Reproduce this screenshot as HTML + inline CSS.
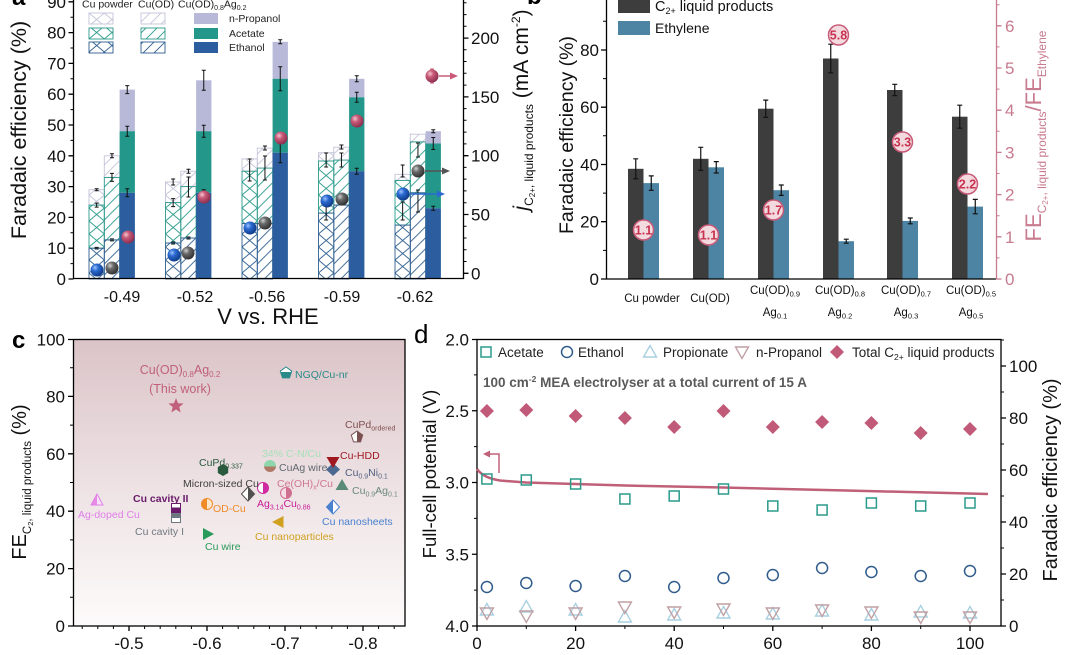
<!DOCTYPE html>
<html><head><meta charset="utf-8"><style>
html,body{margin:0;padding:0;background:#fff;}
svg{display:block;font-family:"Liberation Sans",Arial,sans-serif;}
</style></head><body>
<svg width="1066" height="655" viewBox="0 0 1066 655" xmlns="http://www.w3.org/2000/svg" xmlns:xlink="http://www.w3.org/1999/xlink">
<defs>
<pattern id="xE" patternUnits="userSpaceOnUse" width="15.3" height="13"><path d="M0,0L15.3,13M15.3,0L0,13" stroke="#2f5f8f" stroke-width="0.9" fill="none"/></pattern>
<pattern id="xA" patternUnits="userSpaceOnUse" width="15.3" height="13"><path d="M0,0L15.3,13M15.3,0L0,13" stroke="#2a9a8a" stroke-width="0.9" fill="none"/></pattern>
<pattern id="xP" patternUnits="userSpaceOnUse" width="15.3" height="13"><path d="M0,0L15.3,13M15.3,0L0,13" stroke="#c4c4da" stroke-width="0.9" fill="none"/></pattern>
<pattern id="dE" patternUnits="userSpaceOnUse" width="11" height="11"><path d="M0,11L11,0M-5.5,5.5L5.5,-5.5M5.5,16.5L16.5,5.5" stroke="#2f5f8f" stroke-width="0.9" fill="none"/></pattern>
<pattern id="dA" patternUnits="userSpaceOnUse" width="11" height="11"><path d="M0,11L11,0M-5.5,5.5L5.5,-5.5M5.5,16.5L16.5,5.5" stroke="#2a9a8a" stroke-width="0.9" fill="none"/></pattern>
<pattern id="dP" patternUnits="userSpaceOnUse" width="11" height="11"><path d="M0,11L11,0M-5.5,5.5L5.5,-5.5M5.5,16.5L16.5,5.5" stroke="#c4c4da" stroke-width="0.9" fill="none"/></pattern>
<radialGradient id="gB" cx="0.35" cy="0.32" r="0.75"><stop offset="0" stop-color="#9cc2ff"/><stop offset="0.35" stop-color="#2a6ad0"/><stop offset="1" stop-color="#0c3580"/></radialGradient>
<radialGradient id="gG" cx="0.35" cy="0.32" r="0.75"><stop offset="0" stop-color="#d0d0d0"/><stop offset="0.35" stop-color="#6a6a6a"/><stop offset="1" stop-color="#2a2a2a"/></radialGradient>
<radialGradient id="gP" cx="0.35" cy="0.32" r="0.75"><stop offset="0" stop-color="#f6c6d2"/><stop offset="0.35" stop-color="#c85a78"/><stop offset="1" stop-color="#86284a"/></radialGradient>
<linearGradient id="bgC" x1="0" y1="0" x2="0" y2="1"><stop offset="0" stop-color="#dbc4c8"/><stop offset="0.5" stop-color="#ede1e3"/><stop offset="1" stop-color="#fdfbfb"/></linearGradient>
<linearGradient id="hAgd" x1="0" x2="1" y1="0" y2="0"><stop offset="0.5" stop-color="#e68ae6"/><stop offset="0.5" stop-color="#f8e0f8"/></linearGradient>
<linearGradient id="hCav2" x1="0" x2="0" y1="0" y2="1"><stop offset="0.45" stop-color="#ffffff"/><stop offset="0.45" stop-color="#6a1a6a"/></linearGradient>
<linearGradient id="hCav1" x1="0" x2="0" y1="0" y2="1"><stop offset="0.5" stop-color="#6e7680"/><stop offset="0.5" stop-color="#ffffff"/></linearGradient>
<linearGradient id="hOD" x1="0" x2="1" y1="0" y2="0"><stop offset="0.5" stop-color="#f08c28"/><stop offset="0.5" stop-color="#fde6cc"/></linearGradient>
<linearGradient id="hMic" x1="0" x2="1" y1="0" y2="0"><stop offset="0.5" stop-color="#ffffff"/><stop offset="0.5" stop-color="#505050"/></linearGradient>
<linearGradient id="hAgCu" x1="0" x2="1" y1="0" y2="0"><stop offset="0.5" stop-color="#ffffff"/><stop offset="0.5" stop-color="#d02aa0"/></linearGradient>
<linearGradient id="hCuAg" x1="0" x2="0" y1="0" y2="1"><stop offset="0.55" stop-color="#8ed6ac"/><stop offset="0.55" stop-color="#b07866"/></linearGradient>
<linearGradient id="hCe" x1="0" x2="1" y1="0" y2="0"><stop offset="0.5" stop-color="#f6dce4"/><stop offset="0.5" stop-color="#d07090"/></linearGradient>
<linearGradient id="hNGQ" x1="0" x2="0" y1="0" y2="1"><stop offset="0.45" stop-color="#ffffff"/><stop offset="0.45" stop-color="#2a8a8a"/></linearGradient>
<linearGradient id="hPdo" x1="0" x2="1" y1="0" y2="0"><stop offset="0.5" stop-color="#ffffff"/><stop offset="0.5" stop-color="#7a5050"/></linearGradient>
<linearGradient id="hNs" x1="0" x2="1" y1="0" y2="0"><stop offset="0.5" stop-color="#4a80d0"/><stop offset="0.5" stop-color="#ffffff"/></linearGradient>
<path id="mSq" d="M-5,-5h10v10h-10z"/>
<circle id="mCi" r="5.5"/>
<path id="mTu" d="M0,-6.5L6.5,5L-6.5,5Z"/>
<path id="mTd" d="M-6.5,-5L6.5,-5L0,6.5Z"/>
<path id="mDi" d="M0,-7L7,0L0,7L-7,0Z"/>
</defs>

<!-- ================= PANEL A ================= -->
<text x="12" y="5" font-size="24" font-weight="bold">a</text>
<!-- legend -->
<text x="82" y="7.5" font-size="10.5" fill="#222">Cu powder</text>
<text x="138" y="7.5" font-size="10.5" fill="#222">Cu(OD)</text>
<text x="178" y="7.5" font-size="10.5" fill="#222">Cu(OD)<tspan font-size="7" dy="2.5">0.8</tspan><tspan dy="-2.5">Ag</tspan><tspan font-size="7" dy="2.5">0.2</tspan></text>
<g stroke-width="0.9">
<g transform="translate(89,0)"><rect y="13" width="24" height="11" fill="url(#xP)" stroke="#c4c4da"/><rect y="28" width="24" height="11" fill="url(#xA)" stroke="#2a9a8a"/><rect y="42" width="24" height="11" fill="url(#xE)" stroke="#2f5f8f"/></g>
<g transform="translate(141,0)"><rect y="13" width="24" height="11" fill="url(#dP)" stroke="#c4c4da"/><rect y="28" width="24" height="11" fill="url(#dA)" stroke="#2a9a8a"/><rect y="42" width="24" height="11" fill="url(#dE)" stroke="#2f5f8f"/></g>
</g>
<rect x="194" y="13" width="24" height="11" fill="#b8b9d9"/>
<rect x="194" y="28" width="24" height="11" fill="#22978a"/>
<rect x="194" y="42" width="24" height="11" fill="#2c5e9f"/>
<text x="229" y="22" font-size="10.5" fill="#222">n-Propanol</text>
<text x="229" y="37" font-size="10.5" fill="#222">Acetate</text>
<text x="229" y="51" font-size="10.5" fill="#222">Ethanol</text>

<!-- hatched bars Cu powder -->
<g stroke-width="0.9">
<g transform="translate(89,0)"><rect y="189.7" width="15.3" height="15.4" fill="url(#xP)" stroke="#c4c4da"/><rect y="205.1" width="15.3" height="43.1" fill="url(#xA)" stroke="#2a9a8a"/><rect y="248.2" width="15.3" height="30.8" fill="url(#xE)" stroke="#2f5f8f"/></g>
<g transform="translate(165.5,0)"><rect y="182" width="15.3" height="20.6" fill="url(#xP)" stroke="#c4c4da"/><rect y="202.6" width="15.3" height="40.4" fill="url(#xA)" stroke="#2a9a8a"/><rect y="243" width="15.3" height="36" fill="url(#xE)" stroke="#2f5f8f"/></g>
<g transform="translate(242,0)"><rect y="158.9" width="15.3" height="12.3" fill="url(#xP)" stroke="#c4c4da"/><rect y="171.2" width="15.3" height="52.4" fill="url(#xA)" stroke="#2a9a8a"/><rect y="223.6" width="15.3" height="55.4" fill="url(#xE)" stroke="#2f5f8f"/></g>
<g transform="translate(318.5,0)"><rect y="152.7" width="15.3" height="8.3" fill="url(#xP)" stroke="#c4c4da"/><rect y="161" width="15.3" height="52.1" fill="url(#xA)" stroke="#2a9a8a"/><rect y="213.1" width="15.3" height="65.9" fill="url(#xE)" stroke="#2f5f8f"/></g>
<g transform="translate(395,0)"><rect y="174.3" width="15.3" height="6.1" fill="url(#xP)" stroke="#c4c4da"/><rect y="180.4" width="15.3" height="44.7" fill="url(#xA)" stroke="#2a9a8a"/><rect y="225.1" width="15.3" height="53.9" fill="url(#xE)" stroke="#2f5f8f"/></g>
<!-- Cu(OD) -->
<g transform="translate(104.3,0)"><rect y="155.8" width="15.3" height="21.6" fill="url(#dP)" stroke="#c4c4da"/><rect y="177.4" width="15.3" height="62.5" fill="url(#dA)" stroke="#2a9a8a"/><rect y="239.9" width="15.3" height="39.1" fill="url(#dE)" stroke="#2f5f8f"/></g>
<g transform="translate(180.8,0)"><rect y="171.2" width="15.3" height="15.4" fill="url(#dP)" stroke="#c4c4da"/><rect y="186.6" width="15.3" height="51.4" fill="url(#dA)" stroke="#2a9a8a"/><rect y="238" width="15.3" height="41" fill="url(#dE)" stroke="#2f5f8f"/></g>
<g transform="translate(257.3,0)"><rect y="148.1" width="15.3" height="20" fill="url(#dP)" stroke="#c4c4da"/><rect y="168.1" width="15.3" height="55.5" fill="url(#dA)" stroke="#2a9a8a"/><rect y="223.6" width="15.3" height="55.4" fill="url(#dE)" stroke="#2f5f8f"/></g>
<g transform="translate(333.8,0)"><rect y="147.2" width="15.3" height="12.9" fill="url(#dP)" stroke="#c4c4da"/><rect y="160.1" width="15.3" height="45" fill="url(#dA)" stroke="#2a9a8a"/><rect y="205.1" width="15.3" height="73.9" fill="url(#dE)" stroke="#2f5f8f"/></g>
<g transform="translate(410.3,0)"><rect y="134.2" width="15.3" height="7.7" fill="url(#dP)" stroke="#c4c4da"/><rect y="141.9" width="15.3" height="50.9" fill="url(#dA)" stroke="#2a9a8a"/><rect y="192.8" width="15.3" height="86.2" fill="url(#dE)" stroke="#2f5f8f"/></g>
</g>
<!-- solid CuAg bars -->
<g>
<rect x="119.6" y="89.6" width="15.3" height="41.6" fill="#b8b9d9"/><rect x="119.6" y="131.2" width="15.3" height="61.6" fill="#22978a"/><rect x="119.6" y="192.8" width="15.3" height="86.2" fill="#2c5e9f"/>
<rect x="196.1" y="80.3" width="15.3" height="50.9" fill="#b8b9d9"/><rect x="196.1" y="131.2" width="15.3" height="61.6" fill="#22978a"/><rect x="196.1" y="192.8" width="15.3" height="86.2" fill="#2c5e9f"/>
<rect x="272.6" y="41.8" width="15.3" height="37" fill="#b8b9d9"/><rect x="272.6" y="78.8" width="15.3" height="73.9" fill="#22978a"/><rect x="272.6" y="152.7" width="15.3" height="126.3" fill="#2c5e9f"/>
<rect x="349.1" y="78.8" width="15.3" height="18.5" fill="#b8b9d9"/><rect x="349.1" y="97.3" width="15.3" height="73.9" fill="#22978a"/><rect x="349.1" y="171.2" width="15.3" height="107.8" fill="#2c5e9f"/>
<rect x="425.6" y="131.2" width="15.3" height="12.3" fill="#b8b9d9"/><rect x="425.6" y="143.5" width="15.3" height="64.7" fill="#22978a"/><rect x="425.6" y="208.2" width="15.3" height="70.8" fill="#2c5e9f"/>
</g>
<!-- error bars a -->
<path fill="none" stroke="#111" stroke-width="1" d="M125.25,85.6h4M127.25,85.6v8M125.25,93.6h4M125.25,126.2h4M127.25,126.2v10M125.25,136.2h4M125.25,188.8h4M127.25,188.8v8M125.25,196.8h4M201.75,70.3h4M203.75,70.3v20M201.75,90.3h4M201.75,125.2h4M203.75,125.2v12M201.75,137.2h4M201.75,189.8h4M203.75,189.8v6M201.75,195.8h4M278.25,39.8h4M280.25,39.8v4M278.25,43.8h4M278.25,66.8h4M280.25,66.8v24M278.25,90.8h4M278.25,142.7h4M280.25,142.7v20M278.25,162.7h4M354.75,75.8h4M356.75,75.8v6M354.75,81.8h4M354.75,92.3h4M356.75,92.3v10M354.75,102.3h4M354.75,168.2h4M356.75,168.2v6M354.75,174.2h4M431.25,129.7h4M433.25,129.7v3M431.25,132.7h4M431.25,137.5h4M433.25,137.5v12M431.25,149.5h4M431.25,206.2h4M433.25,206.2v4M431.25,210.2h4M94.65,188.7h4M96.65,188.7v2M94.65,190.7h4M94.65,203.1h4M96.65,203.1v4M94.65,207.1h4M94.65,247.4h4M94.65,249h4M171.15,179h4M173.15,179v6M171.15,185h4M171.15,198.6h4M173.15,198.6v8M171.15,206.6h4M171.15,242h4M171.15,244h4M247.65,159h4M249.65,159v22M247.65,181h4M324.15,153h4M326.15,153v14M324.15,167h4M324.15,200h4M326.15,200v20M324.15,220h4M400.65,165h4M402.65,165v12M400.65,177h4M400.65,202h4M402.65,202v18M400.65,220h4M109.95,153.8h4M111.95,153.8v4M109.95,157.8h4M109.95,173.4h4M111.95,173.4v8M109.95,181.4h4M109.95,238.9h4M109.95,240.9h4M186.45,169.2h4M188.45,169.2v4M186.45,173.2h4M186.45,177h4M188.45,177v20M186.45,197h4M186.45,237h4M186.45,239h4M262.95,146h4M264.95,146v4M262.95,150h4M262.95,156h4M264.95,156v24M262.95,180h4M339.45,145h4M341.45,145v4M339.45,149h4M339.45,153h4M341.45,153v14M339.45,167h4M415.95,143h4M417.95,143v14M415.95,157h4M415.95,190h4M417.95,190v22M415.95,212h4"/>
<!-- arrows -->
<path d="M410,194H440" stroke="#2a6ad0" stroke-width="1.5"/><path d="M445,194L437,190.5L437,197.5Z" fill="#2a6ad0"/>
<path d="M425,171H445" stroke="#555" stroke-width="1.5"/><path d="M450,171L442,167.5L442,174.5Z" fill="#555"/>
<path d="M439,76H453" stroke="#c85a78" stroke-width="1.5"/><path d="M458,76L450,72.5L450,79.5Z" fill="#c85a78"/>
<path d="M432,69v14M430,69h4M430,83h4" stroke="#c85a78" stroke-width="1" fill="none"/>
<!-- spheres -->
<g>
<circle cx="97" cy="270" r="6.5" fill="url(#gB)"/><circle cx="174" cy="255" r="6.5" fill="url(#gB)"/><circle cx="250" cy="228" r="6.5" fill="url(#gB)"/><circle cx="327" cy="201" r="6.5" fill="url(#gB)"/><circle cx="403" cy="194" r="6.5" fill="url(#gB)"/>
<circle cx="112" cy="268" r="6.5" fill="url(#gG)"/><circle cx="188" cy="253" r="6.5" fill="url(#gG)"/><circle cx="265" cy="223" r="6.5" fill="url(#gG)"/><circle cx="342" cy="199" r="6.5" fill="url(#gG)"/><circle cx="418" cy="171" r="6.5" fill="url(#gG)"/>
<circle cx="128" cy="237" r="6.5" fill="url(#gP)"/><circle cx="204" cy="197" r="6.5" fill="url(#gP)"/><circle cx="281" cy="138" r="6.5" fill="url(#gP)"/><circle cx="357" cy="121" r="6.5" fill="url(#gP)"/><circle cx="432" cy="76" r="6.5" fill="url(#gP)"/>
</g>
<!-- axes a -->
<g stroke="#000" stroke-width="1.3" fill="none">
<path d="M73.5,0V278.5H463.5V0"/>
<path d="M68.5,279h5M68.5,248.2h5M68.5,217.4h5M68.5,186.6h5M68.5,155.8h5M68.5,125h5M68.5,94.2h5M68.5,63.4h5M68.5,32.6h5M68.5,1.8h5"/>
<path d="M70.5,263.6h3M70.5,232.8h3M70.5,202h3M70.5,171.2h3M70.5,140.4h3M70.5,109.6h3M70.5,78.8h3M70.5,48h3M70.5,17.2h3" stroke-width="1"/>
<path d="M463.5,273.3h5M463.5,214.5h5M463.5,155.7h5M463.5,96.9h5M463.5,38.1h5"/>
<path d="M463.5,261.5h3M463.5,249.8h3M463.5,238h3M463.5,226.2h3M463.5,202.7h3M463.5,190.9h3M463.5,179.1h3M463.5,167.4h3M463.5,143.9h3M463.5,132.1h3M463.5,120.3h3M463.5,108.6h3M463.5,85.1h3M463.5,73.3h3M463.5,61.5h3M463.5,49.8h3M463.5,26.3h3M463.5,14.6h3M463.5,2.8h3" stroke-width="1"/>
</g>
<g font-size="17" text-anchor="end" fill="#111">
<text x="66" y="285">0</text><text x="66" y="254.2">10</text><text x="66" y="223.4">20</text><text x="66" y="192.6">30</text><text x="66" y="161.8">40</text><text x="66" y="131">50</text><text x="66" y="100.2">60</text><text x="66" y="69.4">70</text><text x="66" y="38.6">80</text><text x="66" y="7.8">90</text>
</g>
<g font-size="17" fill="#111">
<text x="471" y="279.3">0</text><text x="471" y="220.5">50</text><text x="471" y="161.7">100</text><text x="471" y="102.9">150</text><text x="471" y="44.1">200</text>
</g>
<g font-size="16" text-anchor="middle" fill="#111">
<text x="122" y="302">-0.49</text><text x="195" y="302">-0.52</text><text x="267" y="302">-0.56</text><text x="342" y="302">-0.59</text><text x="415" y="302">-0.62</text>
</g>
<text x="268" y="324" font-size="22" text-anchor="middle" fill="#111">V vs. RHE</text>
<text transform="translate(26,130) rotate(-90)" text-anchor="middle" font-size="21.5" fill="#111">Faradaic efficiency (%)</text>
<text transform="translate(528,110) rotate(-90)" text-anchor="middle" font-size="21" fill="#111"><tspan font-style="italic">j</tspan><tspan font-size="12" dy="5">C</tspan><tspan font-size="8" dy="2">2+</tspan><tspan font-size="12" dy="-2">, liquid products</tspan><tspan dy="-5"> (mA cm</tspan><tspan font-size="12" dy="-8">-2</tspan><tspan dy="8">)</tspan></text>

<!-- ================= PANEL B ================= -->
<text x="527" y="4" font-size="24" font-weight="bold">b</text>
<rect x="618" y="-2" width="32" height="15" fill="#3d3d3d"/>
<rect x="618" y="21" width="32" height="14" fill="#4d84a3"/>
<text x="655" y="11" font-size="14.5" fill="#111">C<tspan font-size="9" dy="3">2+</tspan><tspan dy="-3"> liquid products</tspan></text>
<text x="655" y="33" font-size="14" fill="#111">Ethylene</text>
<g fill="#3d3d3d">
<rect x="628" y="168.8" width="15.5" height="110.2"/><rect x="693" y="158.8" width="15.5" height="120.2"/><rect x="758" y="108.7" width="15.5" height="170.3"/><rect x="823" y="58.5" width="15.5" height="220.5"/><rect x="887" y="90" width="15.5" height="189"/><rect x="952" y="116.7" width="15.5" height="162.3"/>
</g>
<g fill="#4d84a3">
<rect x="643.5" y="183.1" width="15.5" height="95.9"/><rect x="708.5" y="167.3" width="15.5" height="111.7"/><rect x="773.5" y="190.2" width="15.5" height="88.8"/><rect x="838.5" y="241.2" width="15.5" height="37.8"/><rect x="902.5" y="220.9" width="15.5" height="58.1"/><rect x="967.5" y="206.6" width="15.5" height="72.4"/>
</g>
<path fill="none" stroke="#111" stroke-width="1.2" d="M633.25,158.8h5M635.75,158.8v20M633.25,178.8h5M698.25,147.3h5M700.75,147.3v23M698.25,170.3h5M763.25,100.1h5M765.75,100.1v17.2M763.25,117.3h5M828.25,44.2h5M830.75,44.2v28.6M828.25,72.8h5M892.25,84.3h5M894.75,84.3v11.4M892.25,95.7h5M957.25,105.2h5M959.75,105.2v23M957.25,128.2h5M648.75,175.9h5M651.25,175.9v14.4M648.75,190.3h5M713.75,161.6h5M716.25,161.6v11.4M713.75,173h5M778.75,185h5M781.25,185v10.4M778.75,195.4h5M843.75,239.2h5M846.25,239.2v4M843.75,243.2h5M907.75,218h5M910.25,218v5.8M907.75,223.8h5M972.75,199.4h5M975.25,199.4v14.4M972.75,213.8h5"/>
<g fill="#f3dadf" stroke="#c85a78" stroke-width="1.5">
<circle cx="643.5" cy="230" r="10"/><circle cx="708.5" cy="235" r="10"/><circle cx="773.5" cy="210" r="10"/><circle cx="838.5" cy="35" r="10"/><circle cx="902.5" cy="142" r="10"/><circle cx="967.5" cy="184" r="10"/>
</g>
<g font-size="12.5" font-weight="bold" fill="#c8324e" text-anchor="middle">
<text x="643.5" y="234.5">1.1</text><text x="708.5" y="239.5">1.1</text><text x="773.5" y="214.5">1.7</text><text x="838.5" y="39.5">5.8</text><text x="902.5" y="146.5">3.3</text><text x="967.5" y="188.5">2.2</text>
</g>
<g stroke="#000" stroke-width="1.3" fill="none">
<path d="M606.5,0V279H996"/>
<path d="M601,279h5M601,221.7h5M601,164.5h5M601,107.2h5M601,50h5"/>
<path d="M603,250.4h3M603,193.1h3M603,135.8h3M603,78.6h3M603,21.3h3" stroke-width="1"/>
</g>
<g stroke="#c87a8e" stroke-width="1.3" fill="none">
<path d="M996.5,0V279.5"/>
<path d="M996.5,279h5M996.5,236.8h5M996.5,194.6h5M996.5,152.4h5M996.5,110.2h5M996.5,68h5M996.5,25.8h5"/>
<path d="M996.5,257.9h3M996.5,215.7h3M996.5,173.5h3M996.5,131.3h3M996.5,89.1h3M996.5,46.9h3M996.5,4.7h3" stroke-width="1"/>
</g>
<g font-size="17" text-anchor="end" fill="#111">
<text x="599" y="285">0</text><text x="599" y="227.7">20</text><text x="599" y="170.5">40</text><text x="599" y="113.2">60</text><text x="599" y="56">80</text>
</g>
<g font-size="17" fill="#c87a8e">
<text x="1005" y="285">0</text><text x="1005" y="242.8">1</text><text x="1005" y="200.6">2</text><text x="1005" y="158.4">3</text><text x="1005" y="116.2">4</text><text x="1005" y="74">5</text><text x="1005" y="31.8">6</text>
</g>
<g font-size="11.5" text-anchor="middle" fill="#111">
<text x="652" y="302">Cu powder</text>
<text x="710" y="302">Cu(OD)</text>
<text x="775" y="294">Cu(OD)<tspan font-size="7.5" dy="2.5">0.9</tspan></text><text x="775" y="316">Ag<tspan font-size="7.5" dy="2.5">0.1</tspan></text>
<text x="840" y="294">Cu(OD)<tspan font-size="7.5" dy="2.5">0.8</tspan></text><text x="840" y="316">Ag<tspan font-size="7.5" dy="2.5">0.2</tspan></text>
<text x="906" y="294">Cu(OD)<tspan font-size="7.5" dy="2.5">0.7</tspan></text><text x="906" y="316">Ag<tspan font-size="7.5" dy="2.5">0.3</tspan></text>
<text x="971" y="294">Cu(OD)<tspan font-size="7.5" dy="2.5">0.5</tspan></text><text x="971" y="316">Ag<tspan font-size="7.5" dy="2.5">0.5</tspan></text>
</g>
<text transform="translate(573,135) rotate(-90)" text-anchor="middle" font-size="19.5" fill="#111">Faradaic efficiency (%)</text>
<text transform="translate(1041,136) rotate(-90)" text-anchor="middle" font-size="22" fill="#c87a8e">FE<tspan font-size="12" dy="5">C</tspan><tspan font-size="8" dy="2">2+</tspan><tspan font-size="12" dy="-2">, liquid products</tspan><tspan dy="-5">/FE</tspan><tspan font-size="12" dy="5">Ethylene</tspan></text>

<!-- ================= PANEL C ================= -->
<text x="12" y="348" font-size="24" font-weight="bold">c</text>
<rect x="73.5" y="339.5" width="331.5" height="286.5" fill="url(#bgC)" stroke="#000" stroke-width="1.3"/>
<g stroke="#000" stroke-width="1.3" fill="none">
<path d="M68,339.5h5M68,396.4h5M68,453.8h5M68,511.2h5M68,568.6h5M68,626h5"/>
<path d="M70,367.7h3M70,425.1h3M70,482.5h3M70,539.9h3M70,597.3h3" stroke-width="1"/>
<path d="M129,626v5M207,626v5M285,626v5M363,626v5"/>
<path d="M82.2,626v3M97.8,626v3M113.4,626v3M144.6,626v3M160.2,626v3M175.8,626v3M191.4,626v3M222.6,626v3M238.2,626v3M253.8,626v3M269.4,626v3M300.6,626v3M316.2,626v3M331.8,626v3M347.4,626v3M378.6,626v3M394.2,626v3" stroke-width="1"/>
</g>
<g font-size="17" text-anchor="end" fill="#111">
<text x="65" y="345.5">100</text><text x="65" y="402.4">80</text><text x="65" y="459.8">60</text><text x="65" y="517.2">40</text><text x="65" y="574.6">20</text><text x="65" y="632">0</text>
</g>
<g font-size="17" text-anchor="middle" fill="#111">
<text x="129" y="649">-0.5</text><text x="207" y="649">-0.6</text><text x="285" y="649">-0.7</text><text x="363" y="649">-0.8</text>
</g>
<text transform="translate(26,482) rotate(-90)" text-anchor="middle" font-size="20" fill="#111">FE<tspan font-size="11.5" dy="5">C</tspan><tspan font-size="7.5" dy="2">2</tspan><tspan font-size="11.5" dy="-2">, liquid products</tspan><tspan dy="-5"> (%)</tspan></text>
<!-- markers -->
<path d="M176,398L178,403.25L183.61,403.53L179.23,407.05L180.7,412.47L176,409.4L171.3,412.47L172.77,407.05L168.39,403.53L174,403.25Z" fill="#c0607a"/>
<path d="M97,494L103,505L91,505Z" fill="url(#hAgd)" stroke="#e080e8" stroke-width="1"/>
<rect x="171.5" y="503.5" width="9" height="9" fill="url(#hCav2)" stroke="#6a1a6a" stroke-width="1"/>
<rect x="171.5" y="513.5" width="9" height="9" fill="url(#hCav1)" stroke="#6e7680" stroke-width="1"/>
<circle cx="207" cy="504" r="5.5" fill="url(#hOD)" stroke="#f08c28" stroke-width="1"/>
<path d="M203,528L214,534L203,540Z" fill="#2a9a5a"/>
<path d="M248,487L254.5,494L248,501L241.5,494Z" fill="url(#hMic)" stroke="#505050" stroke-width="1"/>
<path d="M223,464L228.2,467L228.2,473L223,476L217.8,473L217.8,467Z" fill="#2a5a3e"/>
<circle cx="263" cy="488" r="5.5" fill="url(#hAgCu)" stroke="#d02aa0" stroke-width="1"/>
<circle cx="270" cy="466" r="6" fill="url(#hCuAg)"/>
<circle cx="286" cy="493" r="5.5" fill="url(#hCe)" stroke="#d07090" stroke-width="1"/>
<path d="M272,522L283.5,516L283.5,528Z" fill="#d0a020"/>
<path d="M286,367L291.7,371.1L289.5,377.9L282.5,377.9L280.3,371.1Z" fill="url(#hNGQ)" stroke="#2a8a8a" stroke-width="1"/>
<path d="M357,431L362.7,435.1L360.5,441.9L353.5,441.9L351.3,435.1Z" fill="url(#hPdo)" stroke="#7a5050" stroke-width="1"/>
<path d="M333,470L340,476.5L333,483L326,476.5Z" transform="translate(0,-7)" fill="#4a6890"/>
<path d="M326.5,457H339.5L333,468Z" fill="#a01820"/>
<path d="M342,479L348.5,490L335.5,490Z" fill="#5a8a78"/>
<path d="M333,500L339.5,507L333,514L326.5,507Z" fill="url(#hNs)" stroke="#4a80d0" stroke-width="1"/>
<!-- labels c -->
<text x="180" y="374" font-size="12.5" text-anchor="middle" fill="#c0607a">Cu(OD)<tspan font-size="8" dy="3">0.8</tspan><tspan dy="-3">Ag</tspan><tspan font-size="8" dy="3">0.2</tspan></text>
<text x="180" y="393" font-size="12.5" text-anchor="middle" fill="#c0607a">(This work)</text>
<g font-size="10.5">
<text x="295" y="378" fill="#2a8a8a">NGQ/Cu-nr</text>
<text x="78" y="518" fill="#e080e8">Ag-doped Cu</text>
<text x="133" y="502" fill="#6a1a6a" font-weight="bold">Cu cavity II</text>
<text x="135" y="535" fill="#707880">Cu cavity I</text>
<text x="183" y="487" fill="#404040">Micron-sized Cu</text>
<text x="199" y="466" fill="#2a5a3e">CuPd<tspan font-size="7" dy="2.5">0.337</tspan></text>
<text x="213" y="512" fill="#f08c28">OD-Cu</text>
<text x="205" y="550" fill="#2a9a5a">Cu wire</text>
<text x="262" y="457" fill="#a8e0b8">34% C-N/Cu</text>
<text x="279" y="471" fill="#606870">CuAg wire</text>
<text x="257" y="507" fill="#c81c98">Ag<tspan font-size="7" dy="2.5">3.14</tspan><tspan dy="-2.5">Cu</tspan><tspan font-size="7" dy="2.5">0.86</tspan></text>
<text x="277" y="487" fill="#d07890">Ce(OH)<tspan font-size="7" dy="2.5">x</tspan><tspan dy="-2.5">/Cu</tspan></text>
<text x="255" y="540" fill="#d0a020">Cu nanoparticles</text>
<text x="345" y="428" fill="#805050">CuPd<tspan font-size="7" dy="2.5">ordered</tspan></text>
<text x="340" y="459" fill="#a01820">Cu-HDD</text>
<text x="345" y="476" fill="#506080">Cu<tspan font-size="7" dy="2.5">0.9</tspan><tspan dy="-2.5">Ni</tspan><tspan font-size="7" dy="2.5">0.1</tspan></text>
<text x="352" y="494" fill="#6a8a80">Cu<tspan font-size="7" dy="2.5">0.9</tspan><tspan dy="-2.5">Ag</tspan><tspan font-size="7" dy="2.5">0.1</tspan></text>
<text x="322" y="525" fill="#4a80d0">Cu nanosheets</text>
</g>

<!-- ================= PANEL D ================= -->
<text x="414" y="343" font-size="26">d</text>
<rect x="477" y="339.5" width="524" height="286.5" fill="none" stroke="#000" stroke-width="1.3"/>
<g stroke="#000" stroke-width="1.3" fill="none">
<path d="M472,339.5h5M472,410.75h5M472,482.5h5M472,554.25h5M472,626h5"/>
<path d="M474,374.9h3M474,446.6h3M474,518.4h3M474,590.1h3" stroke-width="1"/>
<path d="M1001,626h5M1001,574h5M1001,522h5M1001,470h5M1001,418h5M1001,366h5"/>
<path d="M1001,600h3M1001,548h3M1001,496h3M1001,444h3M1001,392h3M1001,340h3" stroke-width="1"/>
<path d="M477,626v5M575.6,626v5M674.2,626v5M772.8,626v5M871.4,626v5M970,626v5"/>
<path d="M526.3,626v3M624.9,626v3M723.5,626v3M822.1,626v3M920.7,626v3" stroke-width="1"/>
</g>
<g font-size="17" text-anchor="end" fill="#111">
<text x="469" y="345.5">2.0</text><text x="469" y="416.75">2.5</text><text x="469" y="488.5">3.0</text><text x="469" y="560.25">3.5</text><text x="469" y="632">4.0</text>
</g>
<g font-size="17" fill="#111">
<text x="1009" y="632">0</text><text x="1009" y="580">20</text><text x="1009" y="528">40</text><text x="1009" y="476">60</text><text x="1009" y="424">80</text><text x="1009" y="372">100</text>
</g>
<g font-size="17" text-anchor="middle" fill="#111">
<text x="477" y="649">0</text><text x="575.6" y="649">20</text><text x="674.2" y="649">40</text><text x="772.8" y="649">60</text><text x="871.4" y="649">80</text><text x="970" y="649">100</text>
</g>
<text transform="translate(436,474) rotate(-90)" text-anchor="middle" font-size="18.5" fill="#111">Full-cell potential (V)</text>
<text transform="translate(1057,480) rotate(-90)" text-anchor="middle" font-size="20" fill="#111">Faradaic efficiency (%)</text>
<!-- legend d -->
<use xlink:href="#mSq" x="486" y="352" fill="none" stroke="#2a9a8a" stroke-width="1.5"/>
<use xlink:href="#mCi" x="567" y="352" fill="none" stroke="#305c8c" stroke-width="1.5"/>
<use xlink:href="#mTu" x="650" y="352" fill="none" stroke="#a8d0e0" stroke-width="1.4"/>
<use xlink:href="#mTd" x="742" y="352" fill="none" stroke="#c0a0a4" stroke-width="1.4"/>
<use xlink:href="#mDi" x="837" y="352" fill="#c05a78"/>
<g font-size="13.5" fill="#222">
<text x="498" y="357">Acetate</text>
<text x="578" y="357">Ethanol</text>
<text x="663" y="357">Propionate</text>
<text x="756" y="357">n-Propanol</text>
<text x="852" y="357">Total C<tspan font-size="8.5" dy="3">2+</tspan><tspan dy="-3"> liquid products</tspan></text>
</g>
<text x="483" y="387" font-size="13.5" font-weight="bold" fill="#5a5a5a">100 cm<tspan font-size="8.5" dy="-5">-2</tspan><tspan dy="5"> MEA electrolyser at a total current of 15 A</tspan></text>
<!-- line -->
<path d="M477,469C482,476 490,479 500,480.5L526,482.5L575,484L625,485.5L723,487.5L846,490.5L988,494" fill="none" stroke="#c06078" stroke-width="2.5"/>
<path d="M499,473V454H488" fill="none" stroke="#c06078" stroke-width="1.5"/>
<path d="M483,454L490,450.5L490,457.5Z" fill="#c06078"/>
<!-- markers d -->
<g fill="none" stroke="#a8d0e0" stroke-width="1.4">
<use xlink:href="#mTu" x="486.9" y="610"/><use xlink:href="#mTu" x="526.3" y="607"/><use xlink:href="#mTu" x="575.6" y="610"/><use xlink:href="#mTu" x="624.9" y="617"/><use xlink:href="#mTu" x="674.2" y="615"/><use xlink:href="#mTu" x="723.5" y="613"/><use xlink:href="#mTu" x="772.8" y="614"/><use xlink:href="#mTu" x="822.1" y="611"/><use xlink:href="#mTu" x="871.4" y="615"/><use xlink:href="#mTu" x="920.7" y="612"/><use xlink:href="#mTu" x="970" y="613"/>
</g>
<g fill="none" stroke="#c0a0a4" stroke-width="1.4">
<use xlink:href="#mTd" x="486.9" y="613"/><use xlink:href="#mTd" x="526.3" y="616"/><use xlink:href="#mTd" x="575.6" y="613"/><use xlink:href="#mTd" x="624.9" y="607"/><use xlink:href="#mTd" x="674.2" y="612"/><use xlink:href="#mTd" x="723.5" y="609"/><use xlink:href="#mTd" x="772.8" y="613"/><use xlink:href="#mTd" x="822.1" y="610"/><use xlink:href="#mTd" x="871.4" y="612"/><use xlink:href="#mTd" x="920.7" y="617"/><use xlink:href="#mTd" x="970" y="617"/>
</g>
<g fill="none" stroke="#305c8c" stroke-width="1.5">
<use xlink:href="#mCi" x="486.9" y="587"/><use xlink:href="#mCi" x="526.3" y="583"/><use xlink:href="#mCi" x="575.6" y="586"/><use xlink:href="#mCi" x="624.9" y="576"/><use xlink:href="#mCi" x="674.2" y="587"/><use xlink:href="#mCi" x="723.5" y="578"/><use xlink:href="#mCi" x="772.8" y="575"/><use xlink:href="#mCi" x="822.1" y="568"/><use xlink:href="#mCi" x="871.4" y="572"/><use xlink:href="#mCi" x="920.7" y="576"/><use xlink:href="#mCi" x="970" y="571"/>
</g>
<g fill="none" stroke="#2a9a8a" stroke-width="1.5">
<use xlink:href="#mSq" x="486.9" y="479"/><use xlink:href="#mSq" x="526.3" y="480"/><use xlink:href="#mSq" x="575.6" y="484"/><use xlink:href="#mSq" x="624.9" y="499"/><use xlink:href="#mSq" x="674.2" y="496"/><use xlink:href="#mSq" x="723.5" y="489"/><use xlink:href="#mSq" x="772.8" y="506"/><use xlink:href="#mSq" x="822.1" y="510"/><use xlink:href="#mSq" x="871.4" y="503"/><use xlink:href="#mSq" x="920.7" y="506"/><use xlink:href="#mSq" x="970" y="503"/>
</g>
<g fill="#c05a78">
<use xlink:href="#mDi" x="486.9" y="411"/><use xlink:href="#mDi" x="526.3" y="410"/><use xlink:href="#mDi" x="575.6" y="416"/><use xlink:href="#mDi" x="624.9" y="418"/><use xlink:href="#mDi" x="674.2" y="427"/><use xlink:href="#mDi" x="723.5" y="411"/><use xlink:href="#mDi" x="772.8" y="427"/><use xlink:href="#mDi" x="822.1" y="422"/><use xlink:href="#mDi" x="871.4" y="423"/><use xlink:href="#mDi" x="920.7" y="433"/><use xlink:href="#mDi" x="970" y="429"/>
</g>
</svg>
</body></html>
